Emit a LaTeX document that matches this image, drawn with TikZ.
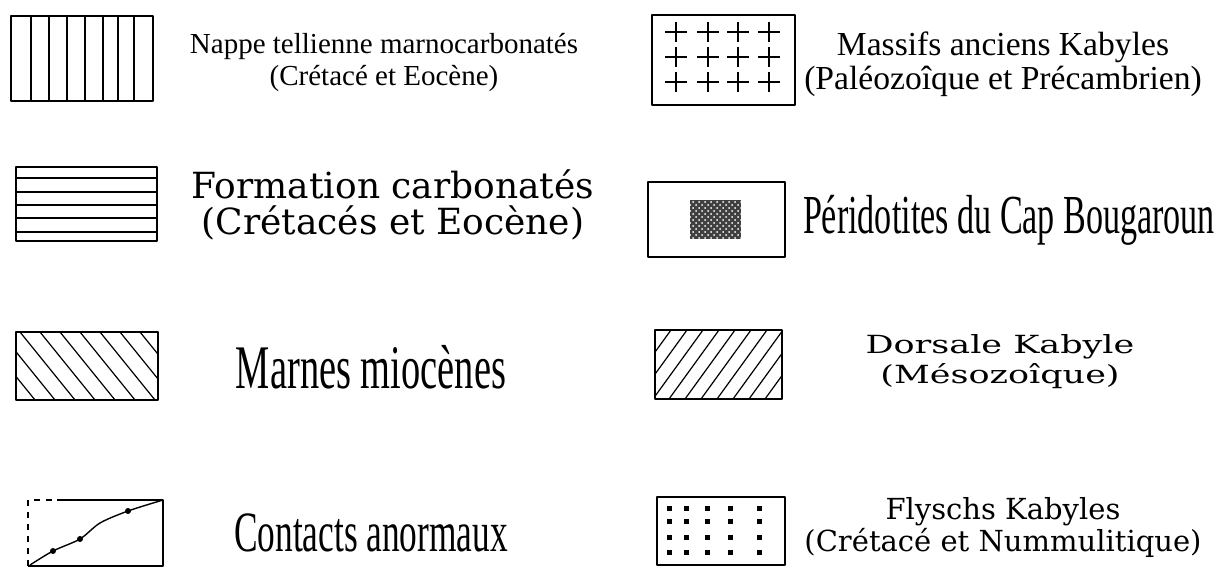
\documentclass[tikz,border=0pt]{standalone}
\usepackage{fontspec}
\setmainfont{Liberation Serif}
\newfontfamily\widefont{DejaVu Serif}
\newfontfamily\extfont[FakeStretch=1.4]{DejaVu Serif}
\newfontfamily\narrowfont[FakeStretch=0.62]{Liberation Serif}
\usetikzlibrary{patterns}

\begin{document}
\begin{tikzpicture}[x=0.5pt, y=-0.5pt, line join=round,
    legbox/.style={draw, line width=0.8pt},
    hatch/.style={line width=0.6pt},
    legtext/.style={align=center, inner sep=0pt}]
    \useasboundingbox (0,0) rectangle (1231,577);

    % Nappe tellienne : traits verticaux
    \draw[legbox] (11,16) rectangle (153,101);
    \foreach \xx in {31,49,67,85,103,118,134}
        \draw[hatch] (\xx,16) -- (\xx,101);
    \node[legtext, font=\fontsize{14.5}{16}\selectfont] (nappe) at (384,63)
        {Nappe tellienne marnocarbonatés\\(Crétacé et Eocène)};

    % Massifs anciens : croix
    \draw[legbox] (652,15) rectangle (795,105);
    \foreach \cx in {676,708,738,769}
        \foreach \cy in {32,57,82}
            \draw[hatch] (\cx-11,\cy) -- (\cx+11,\cy) (\cx,\cy-10) -- (\cx,\cy+10);
    \node[legtext, font=\fontsize{16.8}{17}\selectfont] (massifs) at (1003,64)
        {Massifs anciens Kabyles\\(Paléozoîque et Précambrien)};

    % Formation carbonatée : traits horizontaux
    \draw[legbox] (16,167) rectangle (157,241);
    \foreach \yy in {178,192,205,218,232}
        \draw[hatch] (16,\yy) -- (157,\yy);
    \node[legtext, font=\widefont\fontsize{18}{18}\selectfont] (formation) at (393,205)
        {Formation carbonatés\\(Crétacés et Eocène)};

    % Péridotites
    \draw[legbox] (648,182) rectangle (785,257);
    \fill[black!75] (690,200) rectangle (741,239);
    \fill[pattern=crosshatch dots, pattern color=white] (690,200) rectangle (741,239);
    \node[legtext, font=\narrowfont\fontsize{27.5}{28}\selectfont] (peridot) at (1009,220)
        {Péridotites du Cap Bougaroun};

    % Marnes miocènes : hachures descendantes
    \draw[legbox] (16,332) rectangle (158,400);
    \begin{scope}
        \clip (16,332) rectangle (158,400);
        \foreach \s in {-60,-40,...,160}
            \draw[hatch] (\s,332) -- (\s+55,400);
    \end{scope}
    \node[legtext, font=\narrowfont\fontsize{31}{32}\selectfont] (marnes) at (371,367)
        {Marnes miocènes};

    % Dorsale kabyle : hachures montantes
    \draw[legbox] (655,330) rectangle (782,399);
    \begin{scope}
        \clip (655,330) rectangle (782,399);
        \foreach \s in {605,621,...,800}
            \draw[hatch] (\s,399) -- (\s+50,330);
    \end{scope}
    \node[legtext, font=\extfont\fontsize{12.5}{15}\selectfont] (dorsale) at (1000,362)
        {Dorsale Kabyle\\(Mésozoîque)};

    % Contacts anormaux
    \draw[legbox] (57,500) -- (163,500) -- (163,566) -- (28,566);
    \draw[legbox, dashed] (28,566) -- (28,500) -- (57,500);
    \coordinate (c0) at (30,565);
    \coordinate (c1) at (53,551);
    \coordinate (c2) at (80,539);
    \coordinate (c3) at (100,523);
    \coordinate (c4) at (128,511);
    \coordinate (c5) at (163,500);
    \draw[line width=0.7pt] plot[smooth] coordinates {(c0) (c1) (c2) (c3) (c4) (c5)};
    \foreach \pt in {c1,c2,c4}
        \fill (\pt) circle (3);
    \node[legtext, font=\narrowfont\fontsize{28.5}{32}\selectfont] (contacts) at (371,533)
        {Contacts anormaux};

    % Flyschs kabyles : points
    \draw[legbox] (657,497) rectangle (785,565);
    \foreach \cx in {669,686,707,730,759}
        \foreach \cy in {508,521,537,552}
            \fill (\cx-2.5,\cy-2.5) rectangle ++(5,5);
    \node[legtext, font=\widefont\fontsize{14.5}{16}\selectfont] (flysch) at (1003,527)
        {Flyschs Kabyles\\(Crétacé et Nummulitique)};
\end{tikzpicture}
\end{document}
